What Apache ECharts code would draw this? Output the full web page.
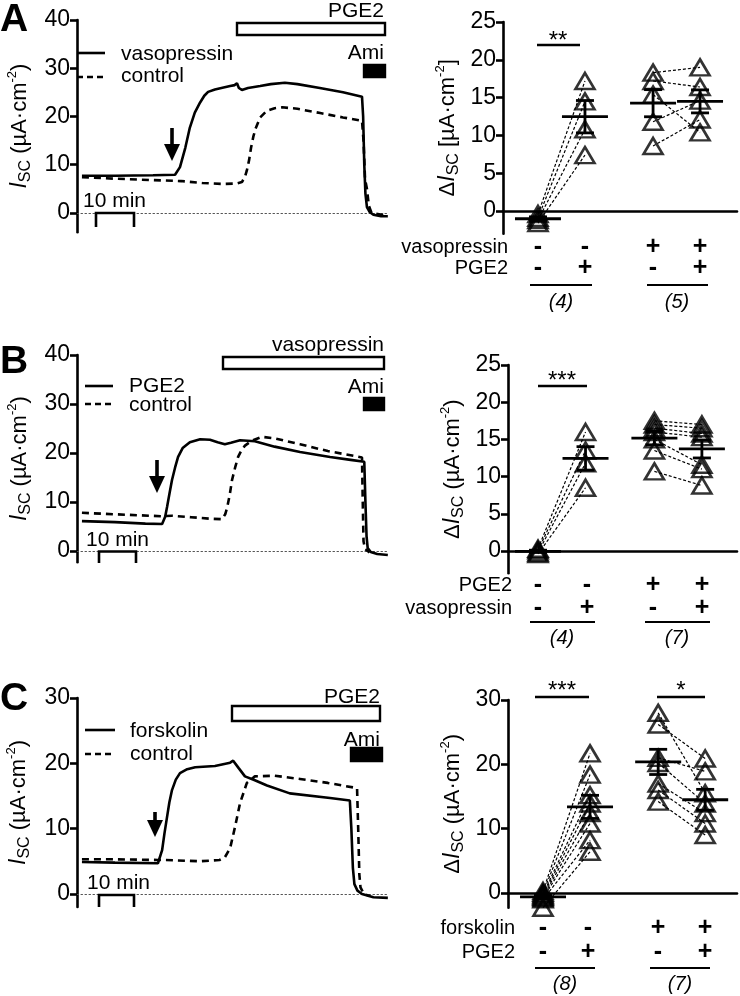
<!DOCTYPE html>
<html><head><meta charset="utf-8">
<script src="https://cdn.jsdelivr.net/npm/echarts@6.0.0/dist/echarts.min.js"></script>
<style>html,body{margin:0;padding:0;background:#fff}#c{width:740px;height:996px}</style>
</head><body><div id="c"></div>
<script>
// ---------------- DATA ----------------
// Panel A traces: [time (min), Isc (uA/cm2)]
const traceA_vasopressin = [[1.3,7.7],[10,7.7],[20,7.8],[25.8,7.9],[27.1,9.5],[28.5,13.5],[29.7,17.7],[31,20.8],[32.4,22.9],[33.5,24.3],[34.5,25.1],[36.3,25.6],[38,25.9],[40.3,26.3],[41.5,26.5],[42.1,26.9],[42.6,25.9],[43.4,25.5],[45,25.9],[48.2,26.3],[51,26.7],[54.7,27.0],[58,26.7],[63.9,25.9],[70,25],[75,24.1],[75.3,20],[75.6,10],[75.9,4],[76.3,1.2],[77,0.2],[78,-0.4],[80,-0.7],[81.8,-0.7]];
const traceA_control = [[1.3,7.4],[10,7.1],[20,6.8],[27.4,6.6],[33,6.2],[38.2,6.0],[42,6.1],[43.4,6.4],[44.2,7.5],[44.7,8.8],[45.3,11],[45.8,13.5],[46.4,15.8],[47,17.5],[48.2,19.8],[50,21.2],[52,21.7],[54,21.9],[58,21.6],[64,20.7],[70,19.8],[75,19.1],[75.4,15],[75.8,7],[76.3,5],[76.8,1.5],[77.5,0],[78,-0.3],[81.8,-0.6]];
// Panel B traces
const traceB_pge2 = [[1.3,6.1],[10,5.9],[18,5.6],[22.4,5.5],[23.2,7],[23.7,9],[24.4,12],[25,14.5],[25.8,17],[26.6,19.2],[27.8,21],[29.7,22.2],[32.4,22.8],[35,22.7],[37,22.2],[38.9,21.8],[40.5,22.1],[42.9,22.6],[46.8,22.4],[52,21.3],[58.7,20.2],[66.6,19.2],[72,18.6],[75.6,18.2],[75.9,10],[76.2,3],[76.5,0.6],[77.3,-0.2],[79,-0.6],[81.8,-0.8]];
const traceB_control = [[1.3,7.8],[10,7.5],[22.4,7.1],[25,7.2],[30,6.9],[35,6.6],[38.2,6.5],[39,7.5],[39.5,8.8],[40.2,11.5],[40.8,14.5],[41.6,17],[42.4,19.2],[43.3,20.6],[44.2,21.5],[46,22.5],[48.7,23.3],[52,23],[58.7,21.8],[66,20.4],[75,19.1],[75.2,10],[75.4,2],[75.8,0.4],[77,-0.3]];
// Panel C traces
const traceC_forskolin = [[1.3,4.9],[10,4.8],[21.3,4.7],[22.4,6.7],[23,9.2],[23.7,11.8],[24.3,14],[25,15.9],[26,17.5],[27.1,18.5],[29,19.1],[31.1,19.4],[36.3,19.6],[40.3,20.1],[41.1,20.4],[42.5,19.3],[44.2,18],[46.8,17.4],[50,16.6],[56,15.4],[66.6,14.7],[71.8,14.3],[72.2,10],[72.6,4],[73,1.5],[73.8,0.5],[75,0],[78,-0.5],[81.8,-0.6]];
const traceC_control = [[1.3,5.3],[10,5.3],[21.3,5.2],[23.2,5.2],[32.4,5.0],[37.5,5.2],[38.9,5.6],[40.3,7],[41.6,10.3],[42.9,13.9],[44.7,17],[46.8,18],[52,18.1],[58.7,17.6],[66,17],[73.7,16.2],[74,10],[74.3,3],[74.6,1],[75.5,0],[77,-0.3]];

// Column positions of the four conditions (dot plots)
const colPos = [1, 2, 3.45, 4.45];
// Panel A dot plot (delta Isc), paired by index
const dotA_ctrl = [-0.4,-0.9,-1.2,-1.6];
const dotA_pge2 = [17.2,14.5,10.8,7.4];
const dotA_vaso = [18.3,17.2,15.4,11.8,8.6];
const dotA_vasoPge2 = [19.0,16.4,10.4,14.6,12.1];
// Panel B dot plot
const dotB_ctrl = [0.3,0.1,-0.2,-0.4];
const dotB_vaso = [16.0,13.5,11.8,8.5];
const dotB_pge2 = [17.5,17.0,16.5,16.0,15.0,13.5,10.7];
const dotB_pge2Vaso = [17.0,16.5,15.8,15.3,11.6,11.0,8.8];
// Panel C dot plot
const dotC_ctrl = [0.3,0,-0.2,-0.4,-0.6,-0.8,-1.0,-2.3];
const dotC_pge2 = [21.7,18.4,15.2,13.9,12.4,10.8,8.2,6.4];
const dotC_fsk = [28.0,26.2,21.0,20.2,17.0,16.0,14.2];
const dotC_fskPge2 = [15.5,20.9,18.9,13.9,12.4,10.8,9.0];

// Tick labels
const ticksLeftAB = [0,10,20,30,40];
const ticksLeftC = [0,10,20,30];
const ticksRightAB = [0,5,10,15,20,25];
const ticksRightC = [0,10,20,30];

// ---------------- HELPERS ----------------
const FONT = '"Liberation Sans", Arial, Helvetica, sans-serif';
const chart = echarts.init(document.getElementById('c'), null, {renderer:'canvas'});

function mean(a){return a.reduce((s,v)=>s+v,0)/a.length;}
function sem(a){const m=mean(a);const v=a.reduce((s,x)=>s+(x-m)*(x-m),0)/(a.length-1);return Math.sqrt(v)/Math.sqrt(a.length);}

const richName = {
  n:{fontSize:22, fontFamily:FONT, color:'#000', lineHeight:28, verticalAlign:'middle'},
  i:{fontSize:23, fontFamily:FONT, fontStyle:'italic', color:'#000', lineHeight:28, verticalAlign:'middle'},
  s:{fontSize:16, fontFamily:FONT, color:'#000', lineHeight:15, verticalAlign:'bottom'},
  p:{fontSize:13, fontFamily:FONT, color:'#000', lineHeight:13, verticalAlign:'top'}
};
const nameLeft = '{i|I}{s|SC}{n| (µA·cm}{p|-2}{n|)}';

function yAx(idx,min,max,ticks,name,gap){
  return {gridIndex:idx,type:'value',min,max,
    axisLine:{show:true,onZero:false,lineStyle:{color:'#000',width:2.6}},
    axisTick:{show:true,length:7,customValues:ticks,lineStyle:{color:'#000',width:2.6}},
    axisLabel:{show:true,customValues:ticks,color:'#000',fontSize:23,fontFamily:FONT,margin:7},
    splitLine:{show:false},
    name,nameLocation:'middle',nameGap:gap,nameRotate:90,
    nameTextStyle:{rich:richName}};
}
function xAxLeft(idx){
  return {gridIndex:idx,type:'value',min:0,max:82,
    axisLine:{show:true,onZero:true,lineStyle:{color:'#555',width:1,type:[1.5,2.5]}},
    axisTick:{show:false},axisLabel:{show:false},splitLine:{show:false}};
}
function xAxRight(idx,min,max){
  return {gridIndex:idx,type:'value',min,max,
    axisLine:{show:true,onZero:true,lineStyle:{color:'#000',width:2.6}},
    axisTick:{show:false},axisLabel:{show:false},splitLine:{show:false}};
}
function trace(idx,data,dashed){
  return {type:'line',xAxisIndex:idx,yAxisIndex:idx,data,symbol:'none',showSymbol:false,
    lineStyle:{color:'#000',width:2.6,type:dashed?[7,5]:'solid'},z:dashed?3:4,animation:false};
}
function dots(idx,groups){
  const data=[];
  groups.forEach((g,k)=>g.forEach(v=>data.push([colPos[k],v])));
  return {type:'scatter',xAxisIndex:idx,yAxisIndex:idx,data,symbol:'triangle',symbolSize:[19,16],
    itemStyle:{color:'rgba(255,255,255,0)',borderColor:'#000',borderWidth:2.6},z:5,animation:false};
}
function pairs(idx,pairList){
  const data=[];
  pairList.forEach(([k1,a,k2,b])=>a.forEach((v,i)=>data.push([colPos[k1],v,colPos[k2],b[i]])));
  return {type:'custom',xAxisIndex:idx,yAxisIndex:idx,data,z:2,animation:false,
    encode:{x:[0,2],y:[1,3]},
    renderItem:(p,api)=>{const a=api.coord([api.value(0),api.value(1)]);const b=api.coord([api.value(2),api.value(3)]);
      return {type:'line',shape:{x1:a[0],y1:a[1],x2:b[0],y2:b[1]},style:{stroke:'#000',lineWidth:1.2,lineDash:[3,2]}};}};
}
function meanSem(idx,groups){
  const data=groups.map((g,k)=>[colPos[k],mean(g),sem(g)]);
  return {type:'custom',xAxisIndex:idx,yAxisIndex:idx,data,z:6,animation:false,
    encode:{x:0,y:1},
    renderItem:(p,api)=>{const x=api.value(0),m=api.value(1),s=api.value(2);
      const c=api.coord([x,m]),t=api.coord([x,m+s]),b=api.coord([x,m-s]);
      const st={stroke:'#000',lineWidth:2.8};
      return {type:'group',children:[
        {type:'line',shape:{x1:c[0]-23,y1:c[1],x2:c[0]+23,y2:c[1]},style:st},
        {type:'line',shape:{x1:c[0],y1:t[1],x2:c[0],y2:b[1]},style:st},
        {type:'line',shape:{x1:c[0]-9,y1:t[1],x2:c[0]+9,y2:t[1]},style:st},
        {type:'line',shape:{x1:c[0]-9,y1:b[1],x2:c[0]+9,y2:b[1]},style:st}]};}};
}

// graphic helpers (annotations)
function T(text,x,y,o){return {type:'text',z:100,style:Object.assign({text,x,y,fill:'#000',fontSize:20,fontFamily:FONT,align:'left',verticalAlign:'middle'},o||{})};}
function L(x1,y1,x2,y2,w,dash){return {type:'line',z:100,shape:{x1,y1,x2,y2},style:{stroke:'#000',lineWidth:w||2.5,lineDash:dash||null}};}
function Rc(x,y,w,h,fill){return {type:'rect',z:100,shape:{x,y,width:w,height:h},style:{fill,stroke:'#000',lineWidth:2.4}};}
function Arrow(x,y1,y2){return {type:'group',z:100,children:[
  {type:'line',shape:{x1:x,y1:y1,x2:x,y2:y2-12},style:{stroke:'#000',lineWidth:3.6}},
  {type:'polygon',shape:{points:[[x-8,y2-17],[x+8,y2-17],[x,y2]]},style:{fill:'#000'}}]};}
function Bracket(x1,x2,yt,yb){return {type:'polyline',z:100,shape:{points:[[x1,yb],[x1,yt],[x2,yt],[x2,yb]]},style:{stroke:'#000',lineWidth:2.6,fill:null}};}
function rowLabels(rightX,xs,y1,y2,l1,l2,s1,s2){
  const out=[T(l1,rightX,y1,{align:'right'}),T(l2,rightX,y2,{align:'right'})];
  xs.forEach((x,k)=>{out.push(T(s1[k],x,y1,{align:'center',fontWeight:'bold',fontSize:25}));out.push(T(s2[k],x,y2,{align:'center',fontWeight:'bold',fontSize:25}));});
  return out;
}

const graphic=[
  // panel letters
  T('A',0,20,{fontSize:39,fontWeight:'bold'}),
  T('B',0,362,{fontSize:39,fontWeight:'bold'}),
  T('C',0,699,{fontSize:39,fontWeight:'bold'}),
  // A left annotations
  T('PGE2',384,11,{align:'right',fontSize:21}), Rc(237,23,148,12,'#fff'),
  T('Ami',384,53,{align:'right',fontSize:21}), Rc(364,65,21,12,'#000'),
  L(77,53,105,53,2.6), T('vasopressin',121,54,{fontSize:21}),
  L(77,77,105,77,2.6,[6,4]), T('control',121,76,{fontSize:21}),
  Arrow(172,128,161),
  Bracket(96,134,213,227), T('10 min',83,201,{fontSize:21}),
  // B left
  T('vasopressin',384,345,{align:'right',fontSize:21}), Rc(223,357,161,12,'#fff'),
  T('Ami',384,387,{align:'right',fontSize:21}), Rc(364,398,20,12,'#000'),
  L(85,386,113,386,2.6), T('PGE2',129,386,{fontSize:21}),
  L(85,404,113,404,2.6,[6,4]), T('control',129,405,{fontSize:21}),
  Arrow(157,460,493),
  Bracket(99,136,551.5,563), T('10 min',86,540,{fontSize:21}),
  // C left
  T('PGE2',380,697,{align:'right',fontSize:21}), Rc(232,706,148,15,'#fff'),
  T('Ami',380,740,{align:'right',fontSize:21}), Rc(351,748,31,13,'#000'),
  L(85,730,115,730,2.6), T('forskolin',130,731,{fontSize:21}),
  L(85,754,115,754,2.6,[6,4]), T('control',130,754,{fontSize:21}),
  Arrow(155,812,837),
  Bracket(99,134,895,907), T('10 min',87,883,{fontSize:21}),
  // significance
  L(537,45,580,45,2.6), T('**',558,41,{align:'center',fontSize:24}),
  L(538,386,587,386,2.6), T('***',562,381,{align:'center',fontSize:24}),
  L(535,697,589,697,2.6), T('***',562,691,{align:'center',fontSize:24}),
  L(657,697,705,697,2.6), T('*',681,691,{align:'center',fontSize:24}),
  // A right lower labels
  ...rowLabels(508,[538,585,653,700],247,268,'vasopressin','PGE2',['-','-','+','+'],['-','+','-','+']),
  L(530,285,592,285,2), L(647,285,708,285,2),
  T('(4)',561,302,{align:'center',fontStyle:'italic'}), T('(5)',677,302,{align:'center',fontStyle:'italic'}),
  // B right lower labels
  ...rowLabels(512,[538,587,653,702],585,608,'PGE2','vasopressin',['-','-','+','+'],['-','+','-','+']),
  L(530,622,595,622,2), L(645,622,710,622,2),
  T('(4)',562,638,{align:'center',fontStyle:'italic'}), T('(7)',677,638,{align:'center',fontStyle:'italic'}),
  // C right lower labels
  ...rowLabels(515,[543,588,658,705],928,952,'forskolin','PGE2',['-','-','+','+'],['-','+','-','+']),
  L(535,968,595,968,2), L(650,968,710,968,2),
  T('(8)',565,984,{align:'center',fontStyle:'italic'}), T('(7)',680,984,{align:'center',fontStyle:'italic'})
];

const option={
  animation:false,
  backgroundColor:'#fff',
  grid:[
    {left:77,top:20,width:311.6,height:212.2},
    {left:503,top:22,width:234,height:211.7},
    {left:77,top:355,width:311.6,height:207.3},
    {left:508,top:365,width:229,height:208.3},
    {left:77,top:698,width:311.6,height:209},
    {left:508,top:700,width:229,height:207.7}
  ],
  xAxis:[xAxLeft(0),xAxRight(1,0.255,5.237),xAxLeft(2),xAxRight(3,0.368,5.189),xAxLeft(4),xAxRight(5,0.255,5.127)],
  yAxis:[
    yAx(0,-4,40,ticksLeftAB,nameLeft,43),
    yAx(1,-3,25,ticksRightAB,'{n|Δ}{i|I}{s|SC}{n| [µA·cm}{p|-2}{n|]}',41),
    yAx(2,-2.3,40,ticksLeftAB,nameLeft,43),
    yAx(3,-3,25,ticksRightAB,'{n|Δ}{i|I}{s|SC}{n| (µA·cm}{p|-2}{n|)}',41),
    yAx(4,-2,30,ticksLeftC,nameLeft,44),
    yAx(5,-2.3,30,ticksRightC,'{n|Δ}{i|I}{s|SC}{n| (µA·cm}{p|-2}{n|)}',41)
  ],
  series:[
    trace(0,traceA_control,true), trace(0,traceA_vasopressin,false),
    trace(2,traceB_control,true), trace(2,traceB_pge2,false),
    trace(4,traceC_control,true), trace(4,traceC_forskolin,false),
    pairs(1,[[0,dotA_ctrl,1,dotA_pge2],[2,dotA_vaso,3,dotA_vasoPge2]]),
    dots(1,[dotA_ctrl,dotA_pge2,dotA_vaso,dotA_vasoPge2]),
    meanSem(1,[dotA_ctrl,dotA_pge2,dotA_vaso,dotA_vasoPge2]),
    pairs(3,[[0,dotB_ctrl,1,dotB_vaso],[2,dotB_pge2,3,dotB_pge2Vaso]]),
    dots(3,[dotB_ctrl,dotB_vaso,dotB_pge2,dotB_pge2Vaso]),
    meanSem(3,[dotB_ctrl,dotB_vaso,dotB_pge2,dotB_pge2Vaso]),
    pairs(5,[[0,dotC_ctrl,1,dotC_pge2],[2,dotC_fsk,3,dotC_fskPge2]]),
    dots(5,[dotC_ctrl,dotC_pge2,dotC_fsk,dotC_fskPge2]),
    meanSem(5,[dotC_ctrl,dotC_pge2,dotC_fsk,dotC_fskPge2])
  ],
  graphic
};
chart.setOption(option);
</script>
</body></html>
